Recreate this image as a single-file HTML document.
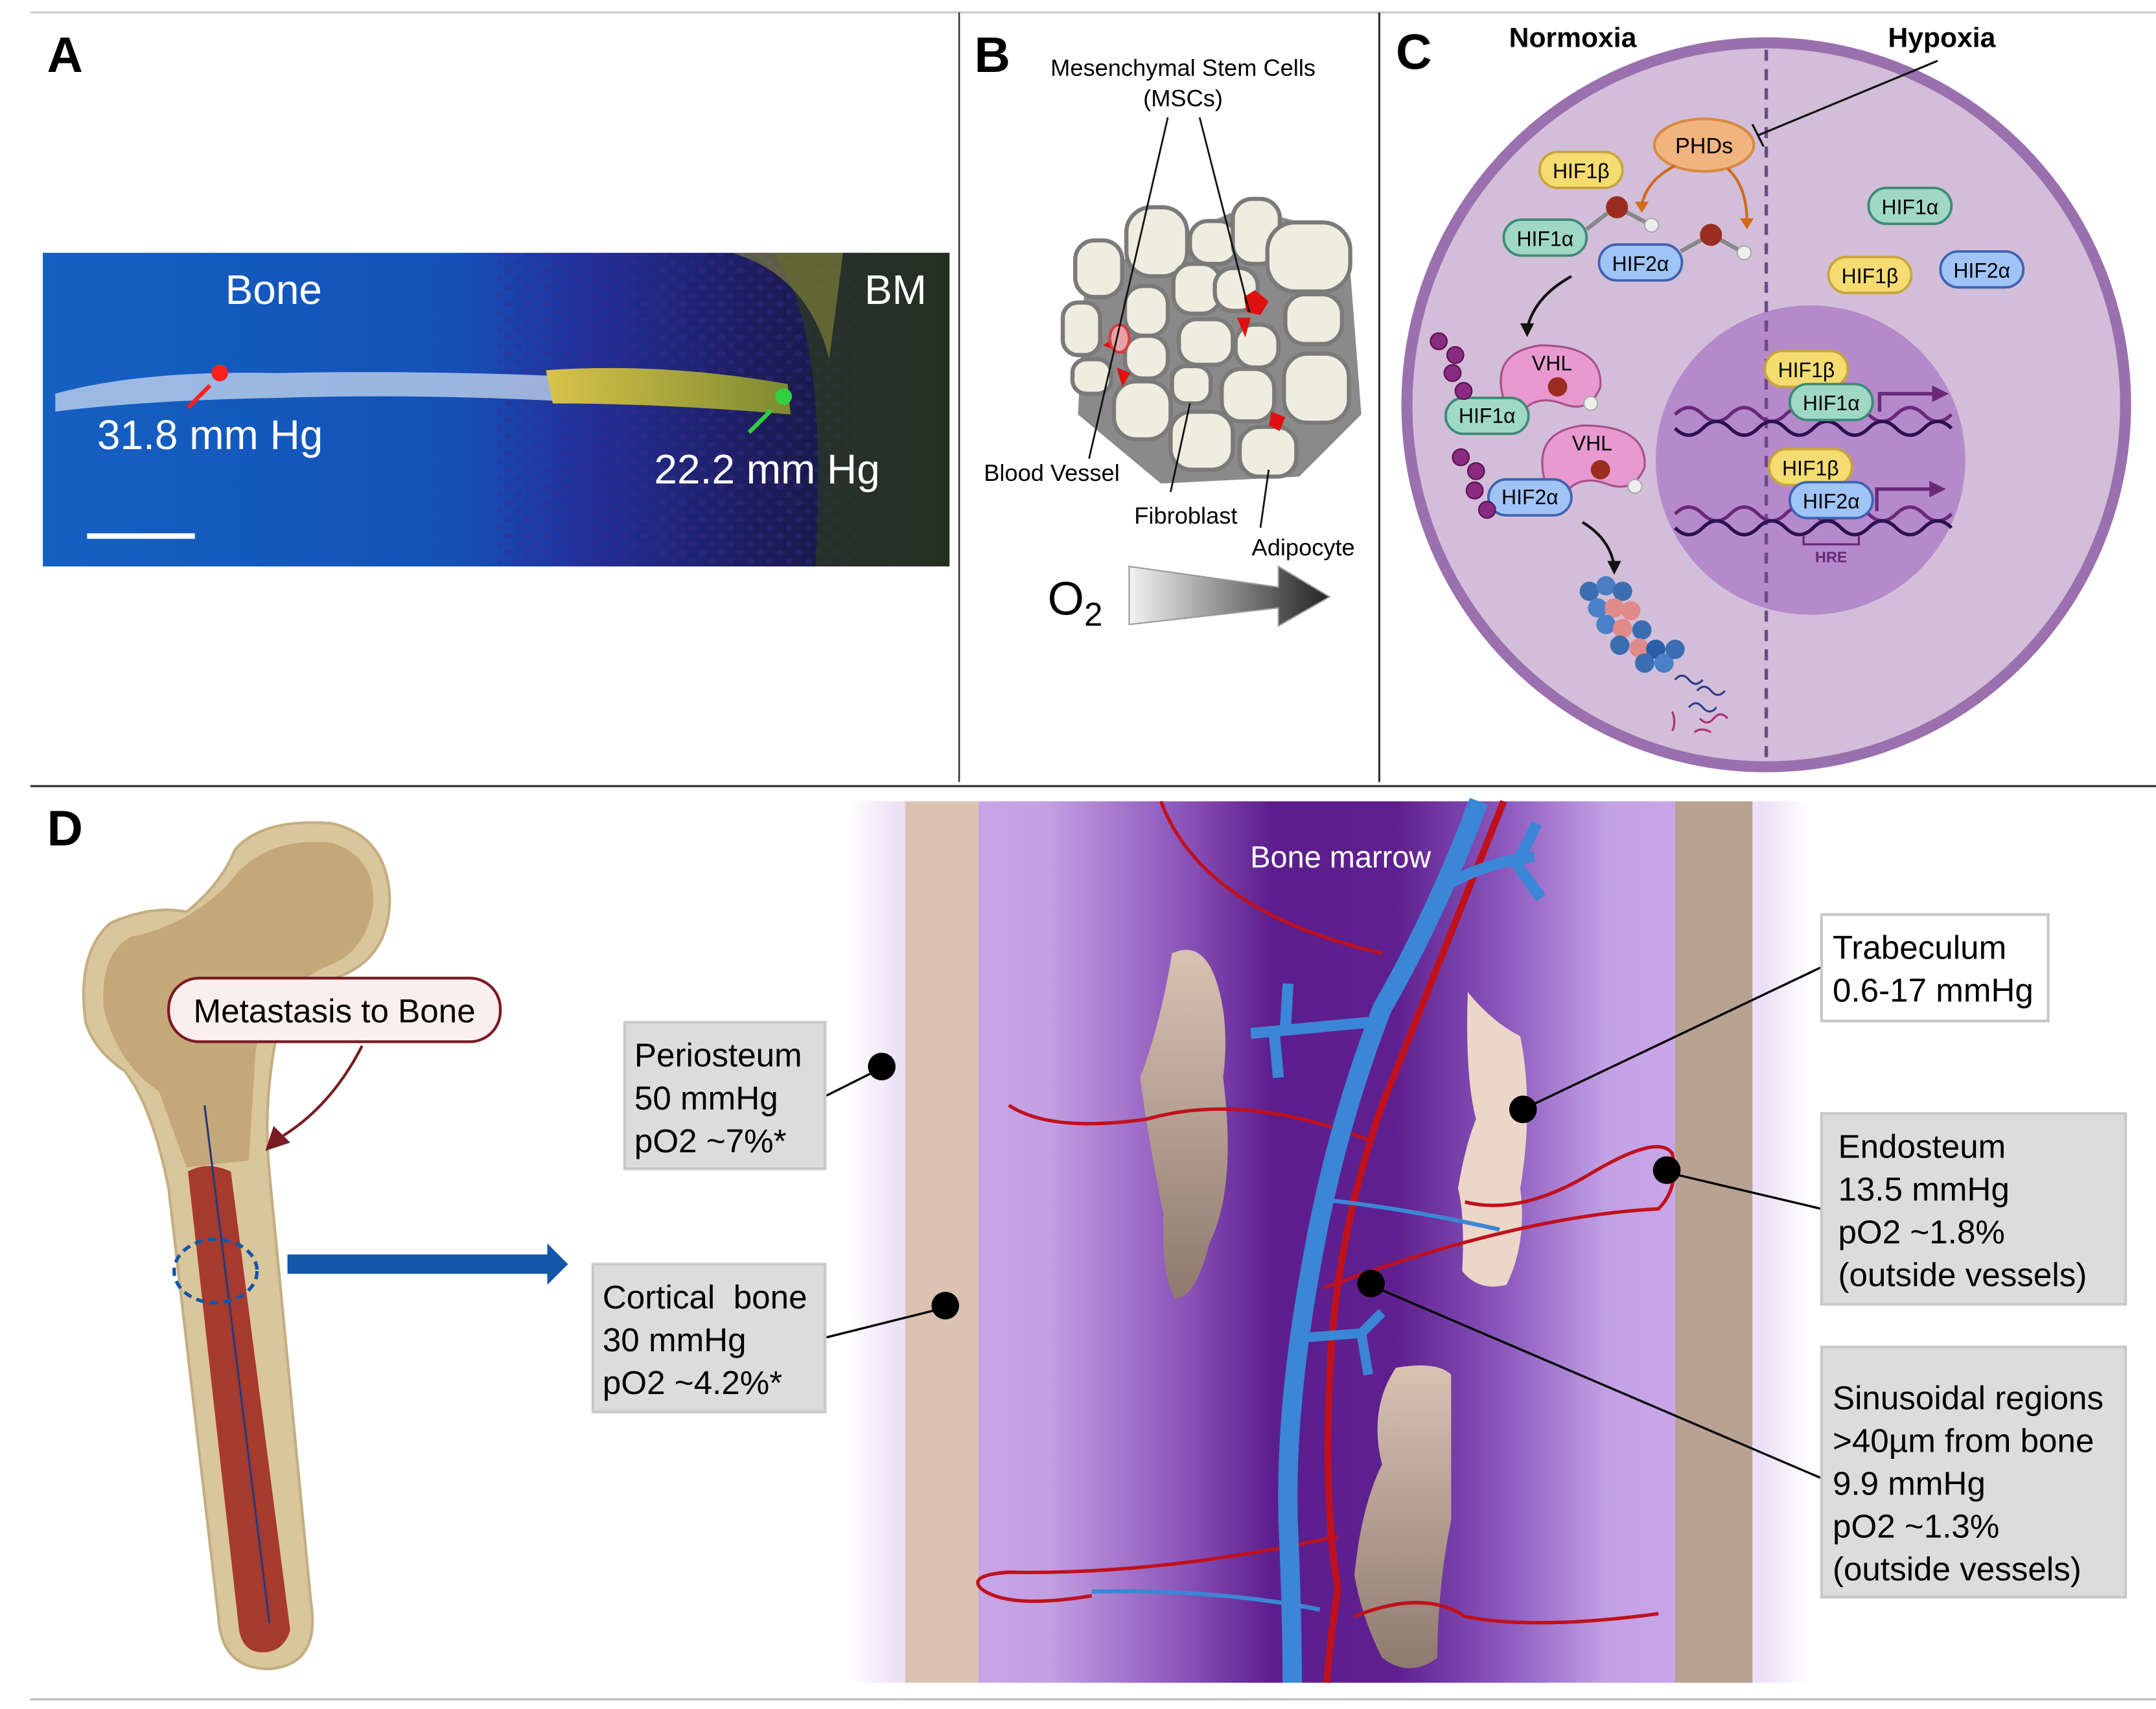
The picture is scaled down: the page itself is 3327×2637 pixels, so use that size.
<!DOCTYPE html>
<html><head><meta charset="utf-8"><style>html,body{margin:0;padding:0;background:#fff}svg{display:block}text{font-family:"Liberation Sans",sans-serif}</style></head>
<body>
<svg width="3327" height="2637" viewBox="0 0 1560 1237" preserveAspectRatio="none" xmlns="http://www.w3.org/2000/svg">
<defs>
<linearGradient id="gA" x1="0" x2="1" y1="0" y2="0">
<stop offset="0" stop-color="#1560c2"/><stop offset="0.45" stop-color="#1452b8"/><stop offset="0.6" stop-color="#22309a"/><stop offset="0.8" stop-color="#1c1c5a"/><stop offset="1" stop-color="#0c1a20"/></linearGradient>
<linearGradient id="gO2" x1="0" x2="1"><stop offset="0" stop-color="#f2f2f2"/><stop offset="1" stop-color="#222"/></linearGradient>
<linearGradient id="gM" x1="0" x2="1">
<stop offset="0" stop-color="#c8a4e8"/><stop offset="0.1" stop-color="#c2a0e2"/><stop offset="0.3" stop-color="#8a52b8"/><stop offset="0.42" stop-color="#5c1e8c"/><stop offset="0.6" stop-color="#5e208e"/><stop offset="0.75" stop-color="#8a56bc"/><stop offset="0.9" stop-color="#c2a0e4"/><stop offset="1" stop-color="#c8a6e8"/></linearGradient>
<linearGradient id="gE" x1="0" x2="1"><stop offset="0" stop-color="#fff"/><stop offset="0.05" stop-color="#ebe0f6"/><stop offset="0.95" stop-color="#ebe0f6"/><stop offset="1" stop-color="#fff"/></linearGradient>
<linearGradient id="gT" x1="0" x2="0" y1="0" y2="1"><stop offset="0" stop-color="#d8c2b2"/><stop offset="1" stop-color="#8f7a70"/></linearGradient>
<linearGradient id="gY" x1="0" x2="1"><stop offset="0" stop-color="#d9c34a"/><stop offset="1" stop-color="#7c8a30"/></linearGradient>
<pattern id="dots" width="14" height="12" patternUnits="userSpaceOnUse"><ellipse cx="4" cy="4" rx="3" ry="2" fill="#3a2a8a" opacity="0.7"/><ellipse cx="11" cy="10" rx="2.5" ry="2" fill="#3a2a8a" opacity="0.6"/></pattern>
</defs>
<line x1="22" y1="9" x2="1560" y2="9" stroke="#ccc" stroke-width="1.5"/>
<line x1="22" y1="569" x2="1560" y2="569" stroke="#333" stroke-width="1.5"/>
<line x1="22" y1="1230" x2="1560" y2="1230" stroke="#bbb" stroke-width="1.5"/>
<line x1="694" y1="9" x2="694" y2="566" stroke="#333" stroke-width="1.2"/>
<line x1="998" y1="9" x2="998" y2="566" stroke="#333" stroke-width="1.5"/>

<!-- A -->
<text x="34" y="52" font-size="36" font-weight="bold">A</text>
<rect x="31" y="183" width="656" height="227" fill="url(#gA)"/>
<rect x="360" y="183" width="260" height="227" fill="url(#dots)" opacity="0.6"/>
<path d="M560 183 Q600 240 590 410 L687 410 L687 183Z" fill="#2e3a20" opacity="0.7"/>
<path d="M530 183 Q585 200 600 260 L610 183Z" fill="#8a8a3a" opacity="0.6"/>
<path d="M40 285 Q100 268 200 270 Q300 268 400 272 L400 290 Q300 285 200 288 Q100 290 40 298Z" fill="#c8d8ee" opacity="0.75"/>
<path d="M395 268 Q480 262 570 278 L572 300 Q480 292 400 292Z" fill="url(#gY)"/>
<circle cx="159" cy="270" r="6" fill="#ff2020"/>
<line x1="152" y1="279" x2="136" y2="295" stroke="#ff2020" stroke-width="3"/>
<circle cx="567" cy="287" r="6" fill="#30d040"/>
<line x1="558" y1="297" x2="542" y2="313" stroke="#30d040" stroke-width="3"/>
<text x="198" y="220" font-size="30" fill="#fff" text-anchor="middle">Bone</text>
<text x="648" y="220" font-size="30" fill="#fff" text-anchor="middle">BM</text>
<text x="152" y="325" font-size="30" fill="#fff" text-anchor="middle">31.8 mm Hg</text>
<text x="555" y="350" font-size="30" fill="#fff" text-anchor="middle">22.2 mm Hg</text>
<line x1="63" y1="388" x2="141" y2="388" stroke="#fff" stroke-width="4"/>

<!-- B -->
<text x="705" y="52" font-size="36" font-weight="bold">B</text>
<text x="856" y="55" font-size="17" text-anchor="middle">Mesenchymal Stem Cells</text>
<text x="856" y="77" font-size="17" text-anchor="middle">(MSCs)</text>
<path d="M785 200 L900 150 L975 170 L985 300 L940 345 L840 350 L780 300Z" fill="#8a8a8a"/>
<g fill="#efede0" stroke="#7a7a7a" stroke-width="3">
<rect x="778" y="174" width="34" height="41" rx="14"/>
<rect x="815" y="150" width="44" height="50" rx="18"/>
<rect x="861" y="160" width="34" height="31" rx="13"/>
<rect x="892" y="144" width="34" height="47" rx="14"/>
<rect x="917" y="161" width="60" height="50" rx="20"/>
<rect x="769" y="219" width="27" height="38" rx="11"/>
<rect x="814" y="207" width="31" height="36" rx="13"/>
<rect x="849" y="191" width="34" height="36" rx="13"/>
<rect x="879" y="194" width="31" height="31" rx="13"/>
<rect x="930" y="213" width="41" height="36" rx="14"/>
<rect x="853" y="231" width="39" height="33" rx="13"/>
<rect x="894" y="235" width="31" height="31" rx="13"/>
<rect x="814" y="243" width="31" height="31" rx="13"/>
<rect x="776" y="260" width="28" height="25" rx="10"/>
<rect x="848" y="265" width="28" height="27" rx="10"/>
<rect x="884" y="267" width="38" height="38" rx="14"/>
<rect x="929" y="256" width="47" height="50" rx="17"/>
<rect x="806" y="276" width="41" height="42" rx="16"/>
<rect x="847" y="298" width="45" height="42" rx="15"/>
<rect x="897" y="309" width="41" height="36" rx="14"/>
</g>
<g fill="#e01010">
<path d="M900 215 l8 -5 l10 8 l-6 10 l-10 -2z"/><path d="M895 230 l10 0 l-4 14 z"/>
<path d="M798 250 l12 -8 l4 14 z"/><path d="M808 266 l10 4 l-6 10z"/><path d="M920 298 l10 4 l-4 10 l-8 -4z"/>
</g>
<ellipse cx="810" cy="245" rx="7" ry="10" fill="#eba0a8" stroke="#d04040" stroke-width="2"/>
<g stroke="#111" stroke-width="1.3">
<line x1="845" y1="85" x2="788" y2="332"/><line x1="868" y1="85" x2="904" y2="226"/>
<line x1="847" y1="356" x2="861" y2="292"/><line x1="912" y1="382" x2="918" y2="340"/>
</g>
<text x="761" y="348" font-size="17" text-anchor="middle">Blood Vessel</text>
<text x="858" y="379" font-size="17" text-anchor="middle">Fibroblast</text>
<text x="943" y="402" font-size="17" text-anchor="middle">Adipocyte</text>
<text x="758" y="445" font-size="34">O<tspan font-size="24" dy="8">2</tspan></text>
<path d="M817 410 L925 425 L925 410 L962 432 L925 453 L925 440 L817 452Z" fill="url(#gO2)" stroke="#999" stroke-width="1"/>

<!-- C -->
<text x="1010" y="50" font-size="36" font-weight="bold">C</text>
<text x="1138" y="34" font-size="20" font-weight="bold" text-anchor="middle">Normoxia</text>
<text x="1405" y="34" font-size="20" font-weight="bold" text-anchor="middle">Hypoxia</text>
<ellipse cx="1278" cy="293" rx="260" ry="262" fill="#d3bed9" stroke="#9a70ae" stroke-width="8"/>
<circle cx="1310" cy="333" r="112" fill="#b48acb"/>
<line x1="1278" y1="36" x2="1278" y2="552" stroke="#6a4a86" stroke-width="2.5" stroke-dasharray="8 6"/>
<line x1="1402" y1="44" x2="1272" y2="98" stroke="#111" stroke-width="1.5"/>
<line x1="1268" y1="90" x2="1276" y2="106" stroke="#111" stroke-width="1.5"/>
<ellipse cx="1233" cy="105" rx="36" ry="19" fill="#f2b47e" stroke="#d68a44" stroke-width="2"/>
<text x="1233" y="111" font-size="16" text-anchor="middle">PHDs</text>
<g fill="none" stroke="#d06a1a" stroke-width="2"><path d="M1212 120 Q1192 130 1188 148"/><path d="M1250 122 Q1264 135 1264 160"/></g>
<path d="M1183 146 l10 0 l-5 8z M1259 158 l10 0 l-5 8z" fill="#d06a1a"/>
<g font-size="15" text-anchor="middle">
<g stroke-width="1.8">
<rect x="1114" y="110" width="60" height="26" rx="13" fill="#f5dc70" stroke="#c9a43a"/>
<rect x="1088" y="159" width="60" height="26" rx="13" fill="#a0d8c6" stroke="#3f8a78"/>
<rect x="1157" y="177" width="60" height="26" rx="13" fill="#a0c4f6" stroke="#3f63b0"/>
<rect x="1352" y="136" width="60" height="26" rx="13" fill="#a0d8c6" stroke="#3f8a78"/>
<rect x="1323" y="186" width="60" height="26" rx="13" fill="#f5dc70" stroke="#c9a43a"/>
<rect x="1404" y="182" width="60" height="26" rx="13" fill="#a0c4f6" stroke="#3f63b0"/>
</g>
<text x="1144" y="129">HIF1β</text><text x="1118" y="178">HIF1α</text><text x="1187" y="196">HIF2α</text>
<text x="1382" y="155">HIF1α</text><text x="1353" y="205">HIF1β</text><text x="1434" y="201">HIF2α</text>
</g>
<g stroke="#888" stroke-width="3"><line x1="1148" y1="166" x2="1166" y2="152"/><line x1="1216" y1="182" x2="1234" y2="172"/><line x1="1174" y1="152" x2="1193" y2="162"/><line x1="1242" y1="172" x2="1260" y2="182"/></g>
<circle cx="1170" cy="150" r="8" fill="#9a2d1f"/><circle cx="1238" cy="170" r="8" fill="#9a2d1f"/>
<circle cx="1195" cy="163" r="5" fill="#eee" stroke="#aaa"/><circle cx="1262" cy="183" r="5" fill="#eee" stroke="#aaa"/>
<path d="M1137 200 Q1110 215 1105 238" fill="none" stroke="#111" stroke-width="2"/><path d="M1100 234 l10 0 l-5 10z" fill="#111"/>
<path d="M1090 295 Q1075 255 1115 250 Q1160 250 1158 280 Q1150 300 1130 292 Q1110 285 1100 300Z" fill="#e89ad0" stroke="#a8508c" stroke-width="1.5"/>
<path d="M1120 355 Q1105 313 1145 308 Q1192 308 1190 338 Q1182 358 1162 350 Q1142 343 1132 358Z" fill="#e89ad0" stroke="#a8508c" stroke-width="1.5"/>
<rect x="1046" y="288" width="60" height="26" rx="13" fill="#a0d8c6" stroke="#3f8a78" stroke-width="1.8"/>
<rect x="1077" y="347" width="60" height="26" rx="13" fill="#a0c4f6" stroke="#3f63b0" stroke-width="1.8"/>
<g font-size="15" text-anchor="middle"><text x="1123" y="268">VHL</text><text x="1152" y="326">VHL</text><text x="1076" y="306">HIF1α</text><text x="1107" y="365">HIF2α</text></g>
<circle cx="1127" cy="280" r="7" fill="#9a2d1f"/><circle cx="1158" cy="340" r="7" fill="#9a2d1f"/>
<circle cx="1151" cy="292" r="5" fill="#eee" stroke="#aaa"/><circle cx="1183" cy="352" r="5" fill="#eee" stroke="#aaa"/>
<g fill="#8a2a80" stroke="#5a1050" stroke-width="1">
<circle cx="1041" cy="247" r="6"/><circle cx="1053" cy="257" r="6"/><circle cx="1051" cy="270" r="6"/><circle cx="1059" cy="283" r="6"/>
<circle cx="1057" cy="331" r="6"/><circle cx="1068" cy="341" r="6"/><circle cx="1067" cy="355" r="6"/><circle cx="1076" cy="369" r="6"/>
</g>
<path d="M1145 378 Q1165 390 1168 410" fill="none" stroke="#111" stroke-width="2"/><path d="M1163 406 l10 0 l-5 10z" fill="#111"/>
<g>
<circle cx="1150" cy="428" r="7" fill="#3a6eb0"/><circle cx="1162" cy="424" r="7" fill="#4a7ec0"/><circle cx="1174" cy="428" r="7" fill="#3a6eb0"/>
<circle cx="1156" cy="440" r="7" fill="#4a80c8"/><circle cx="1168" cy="440" r="7" fill="#e08a8a"/><circle cx="1180" cy="442" r="7" fill="#e08a8a"/>
<circle cx="1162" cy="452" r="7" fill="#4a80c8"/><circle cx="1174" cy="455" r="7" fill="#e08a8a"/><circle cx="1188" cy="456" r="7" fill="#3a6eb0"/>
<circle cx="1172" cy="467" r="7" fill="#3a6eb0"/><circle cx="1186" cy="469" r="7" fill="#e08a8a"/><circle cx="1198" cy="470" r="7" fill="#2a5ea8"/>
<circle cx="1190" cy="480" r="7" fill="#3a6eb0"/><circle cx="1204" cy="480" r="7" fill="#4a80c8"/><circle cx="1212" cy="470" r="7" fill="#3a6eb0"/>
</g>
<g fill="none" stroke-width="1.5"><path d="M1212 492 q5 -6 10 0 t10 0" stroke="#2a3e8e"/><path d="M1228 500 q5 -6 10 0 t10 0" stroke="#2a3e8e"/><path d="M1222 512 q5 -6 10 0 t10 0" stroke="#2a3e8e"/><path d="M1210 515 q3 8 0 14" stroke="#b03070"/><path d="M1230 520 q5 6 10 0 t10 0" stroke="#b03070"/><path d="M1226 530 q5 -4 12 0" stroke="#b03070"/></g>
<g fill="none" stroke-width="2.5">
<path d="M1212 300 q10 -10 20 0 t20 0 t20 0 t20 0 t20 0 t20 0 t20 0 t20 0 t20 0 t20 0" stroke="#6a2878"/>
<path d="M1212 310 q10 10 20 0 t20 0 t20 0 t20 0 t20 0 t20 0 t20 0 t20 0 t20 0 t20 0" stroke="#2a1050"/>
<path d="M1212 372 q10 -10 20 0 t20 0 t20 0 t20 0 t20 0 t20 0 t20 0 t20 0 t20 0 t20 0" stroke="#6a2878"/>
<path d="M1212 382 q10 10 20 0 t20 0 t20 0 t20 0 t20 0 t20 0 t20 0 t20 0 t20 0 t20 0" stroke="#2a1050"/>
<path d="M1360 298 v-13 h40 M1358 370 v-16 h40" stroke="#6a2878"/>
<path d="M1305 388 v6 h40 v-6" stroke="#6a2878" stroke-width="1.5"/>
</g>
<path d="M1398 279 l12 6 l-12 6z M1396 348 l12 6 l-12 6z" fill="#6a2878"/>
<rect x="1277" y="254" width="60" height="26" rx="13" fill="#f5dc70" stroke="#c9a43a" stroke-width="1.8"/>
<rect x="1295" y="278" width="60" height="26" rx="13" fill="#a0d8c6" stroke="#3f8a78" stroke-width="1.8"/>
<rect x="1280" y="325" width="60" height="26" rx="13" fill="#f5dc70" stroke="#c9a43a" stroke-width="1.8"/>
<rect x="1295" y="349" width="60" height="26" rx="13" fill="#a0c4f6" stroke="#3f63b0" stroke-width="1.8"/>
<g font-size="15" text-anchor="middle"><text x="1307" y="273">HIF1β</text><text x="1325" y="297">HIF1α</text><text x="1310" y="344">HIF1β</text><text x="1325" y="368">HIF2α</text></g>
<text x="1325" y="407" font-size="11" font-weight="bold" fill="#6a2878" text-anchor="middle">HRE</text>

<!-- D -->
<text x="34" y="612" font-size="36" font-weight="bold">D</text>
<path d="M62 740 Q55 690 80 668 Q110 655 135 660 Q160 640 170 615 Q190 592 240 596 Q280 605 282 650 Q282 690 250 705 Q210 720 200 750 Q190 800 195 850 L225 1160 Q232 1205 195 1208 Q160 1208 158 1170 L122 860 Q110 800 90 775 Q68 760 62 740Z" fill="#d9c69a" stroke="#c4ae82" stroke-width="2"/>
<path d="M75 730 Q72 690 95 678 Q135 670 165 640 Q190 605 240 610 Q272 620 270 655 Q265 690 235 700 Q195 720 185 760 L180 840 L135 845 L115 790 Q85 770 75 730Z" fill="#b89464" opacity="0.6"/>
<path d="M136 848 Q150 840 167 848 L210 1180 Q205 1196 190 1196 Q176 1196 173 1180Z" fill="#a63a2c"/>
<line x1="148" y1="800" x2="195" y2="1175" stroke="#2a3a7a" stroke-width="1.5"/>
<rect x="122" y="708" width="240" height="46" rx="22" fill="#fbeeee" stroke="#7a1a22" stroke-width="2"/>
<text x="242" y="740" font-size="24" text-anchor="middle">Metastasis to Bone</text>
<path d="M262 757 Q240 800 205 822" fill="none" stroke="#7a1a22" stroke-width="2"/>
<path d="M192 833 l6 -18 l12 12z" fill="#7a1a22"/>
<ellipse cx="156" cy="920" rx="30" ry="23" fill="none" stroke="#1456a8" stroke-width="2.5" stroke-dasharray="6 4"/>
<rect x="208" y="908" width="190" height="14" fill="#1456a8"/>
<path d="M396 900 L411 915 L396 930Z" fill="#1456a8"/>

<rect x="615" y="580" width="695" height="638" fill="url(#gE)"/>
<rect x="655" y="580" width="53" height="638" fill="#dcc3b1"/>
<rect x="1212" y="580" width="56" height="638" fill="#b9a292"/>
<rect x="708" y="580" width="504" height="638" fill="url(#gM)"/>
<path d="M848 690 Q870 680 880 710 Q890 740 885 780 Q895 860 875 900 Q865 940 850 940 Q840 920 842 880 Q830 820 825 780 Q840 740 848 690Z" fill="url(#gT)"/>
<path d="M1062 718 Q1080 740 1100 750 Q1110 800 1100 860 Q1105 900 1090 930 Q1070 935 1058 920 Q1060 880 1055 860 Q1060 830 1068 810 Q1060 780 1062 718Z" fill="#ecd6c8"/>
<path d="M1010 990 Q1040 985 1050 995 Q1050 1050 1050 1100 Q1040 1150 1040 1200 Q1020 1215 1000 1200 Q985 1170 980 1140 Q985 1090 1000 1060 Q990 1020 1010 990Z" fill="url(#gT)"/>
<g fill="none" stroke="#c0101c" stroke-width="2.5">
<path d="M840 580 Q870 660 1000 690"/>
<path d="M1088 580 Q1040 700 1000 800 Q965 900 962 1000 Q958 1090 968 1150 Q962 1190 960 1218" stroke-width="5"/>
<path d="M730 800 Q760 820 830 810 Q900 790 990 825"/>
<path d="M958 932 Q1100 880 1200 875 Q1215 860 1210 835 Q1200 820 1150 850 Q1100 880 1060 870"/>
<path d="M968 1112 Q840 1140 730 1138 Q700 1140 710 1150 Q730 1165 790 1155"/>
<path d="M980 1170 Q1030 1150 1060 1170 Q1110 1180 1200 1168"/>
</g>
<g fill="none" stroke="#3b86d6">
<path d="M1070 580 Q1040 660 1000 730 Q965 820 948 920 Q930 1020 932 1100 Q935 1170 935 1218" stroke-width="14"/>
<path d="M1040 645 Q1070 625 1110 620 M1095 622 L1115 650 M1100 620 L1112 596" stroke-width="8"/>
<path d="M990 740 L905 748 M930 745 L932 712 M922 748 L925 780" stroke-width="8"/>
<path d="M945 968 L985 965 L1000 950 M985 965 L990 995" stroke-width="7"/>
<path d="M955 868 Q1020 875 1085 890 M790 1152 Q880 1150 955 1165" stroke-width="3"/>
</g>
<g fill="#000">
<circle cx="638" cy="772" r="10"/><circle cx="684" cy="945" r="10"/><circle cx="1102" cy="803" r="10"/><circle cx="1206" cy="847" r="10"/><circle cx="992" cy="929" r="10"/>
</g>
<g stroke="#000" stroke-width="1.6">
<line x1="598" y1="793" x2="632" y2="776"/><line x1="598" y1="968" x2="678" y2="948"/>
<line x1="1318" y1="700" x2="1108" y2="800"/><line x1="1318" y1="875" x2="1212" y2="850"/><line x1="1318" y1="1070" x2="998" y2="933"/>
</g>
<g stroke="#c8c8c8" stroke-width="2">
<rect x="452" y="740" width="145" height="106" fill="#dcdcdc"/>
<rect x="429" y="915" width="168" height="107" fill="#dcdcdc"/>
<rect x="1318" y="662" width="164" height="77" fill="#fff"/>
<rect x="1318" y="806" width="220" height="138" fill="#dcdcdc"/>
<rect x="1318" y="975" width="220" height="181" fill="#dcdcdc"/>
</g>
<g font-size="24">
<text x="459" y="772">Periosteum</text><text x="459" y="803">50 mmHg</text><text x="459" y="834">pO2 ~7%*</text>
<text x="436" y="947">Cortical&#160; bone</text><text x="436" y="978">30 mmHg</text><text x="436" y="1009">pO2 ~4.2%*</text>
<text x="1326" y="694">Trabeculum</text><text x="1326" y="725">0.6-17 mmHg</text>
<text x="1330" y="838">Endosteum</text><text x="1330" y="869">13.5 mmHg</text><text x="1330" y="900">pO2 ~1.8%</text><text x="1330" y="931">(outside vessels)</text>
<text x="1326" y="1020">Sinusoidal regions</text><text x="1326" y="1051">&gt;40µm from bone</text><text x="1326" y="1082">9.9 mmHg</text><text x="1326" y="1113">pO2 ~1.3%</text><text x="1326" y="1144">(outside vessels)</text>
</g>
<text x="970" y="628" font-size="22" fill="#fff" text-anchor="middle">Bone marrow</text>
</svg>
</body></html>
